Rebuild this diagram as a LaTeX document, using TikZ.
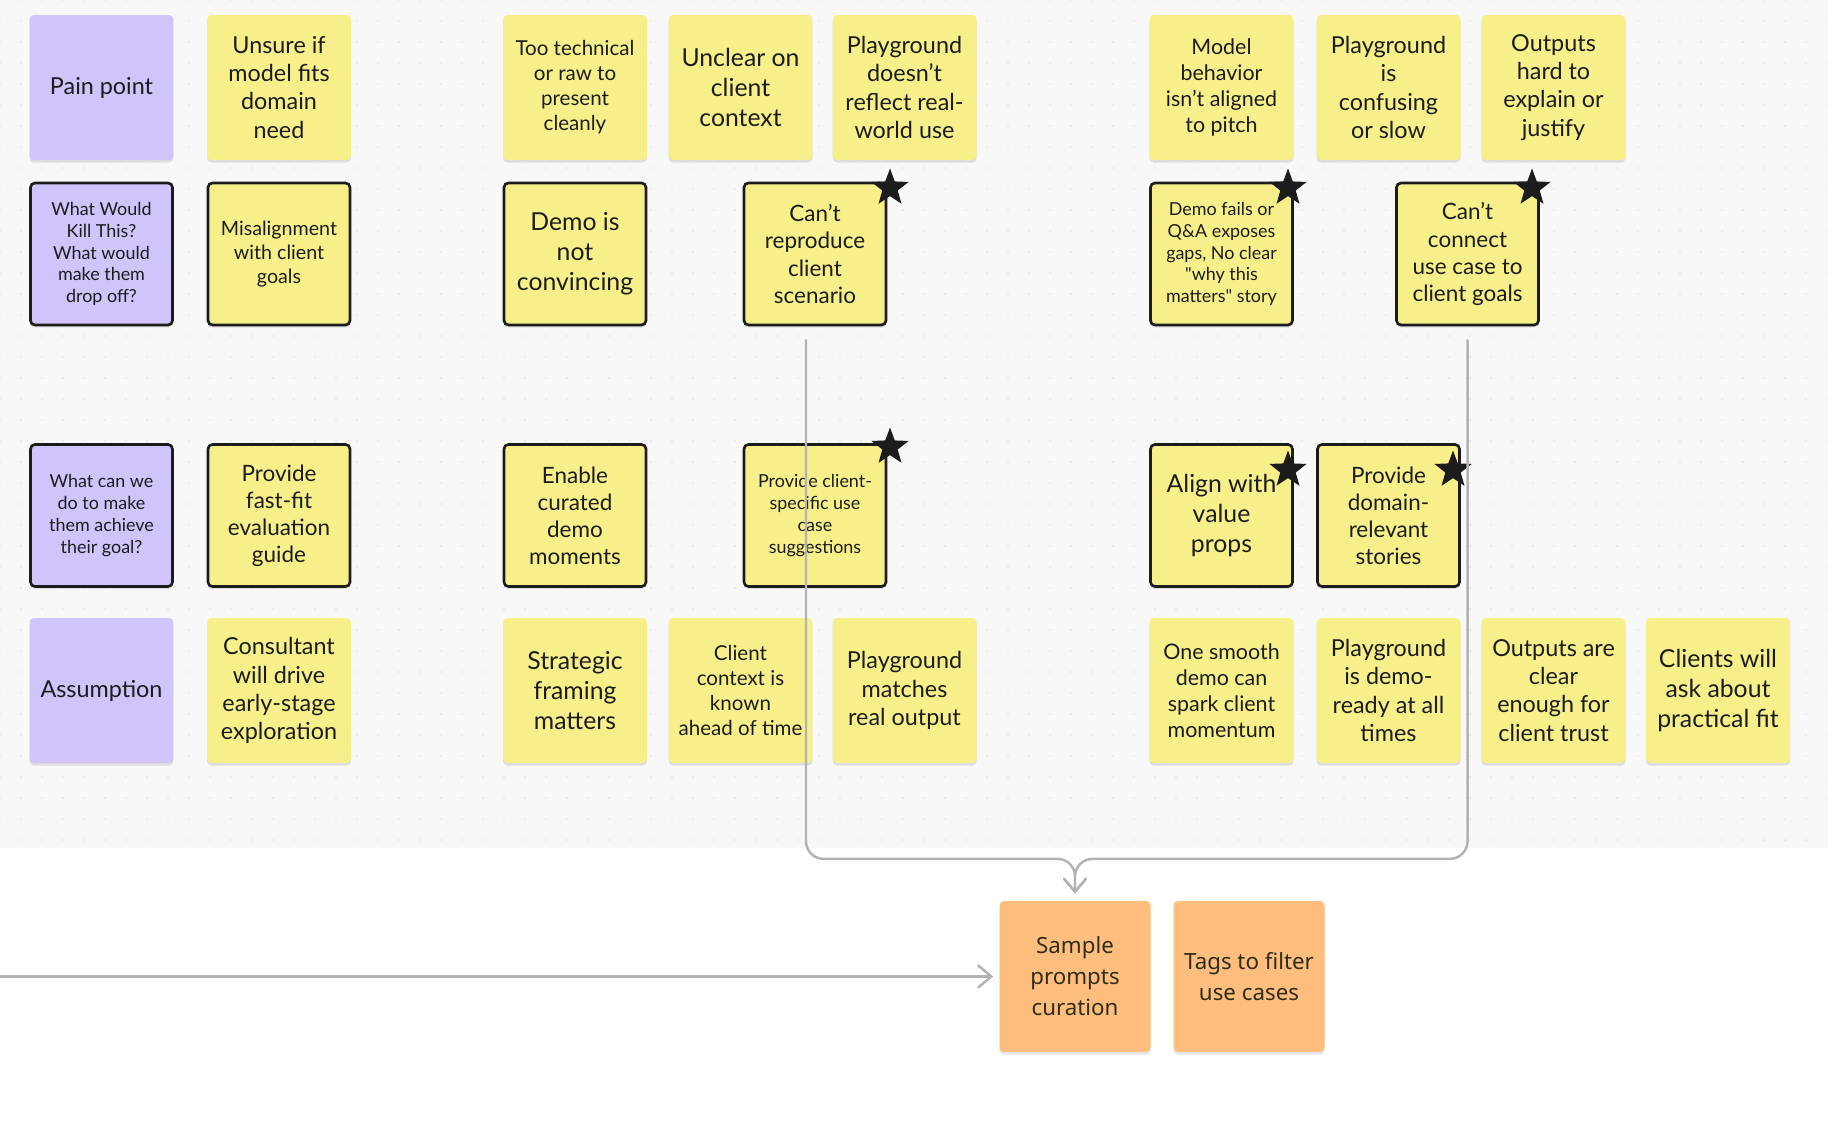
\documentclass[tikz,border=0pt]{standalone}
\usepackage{fontspec}
\setmainfont{Lato}[Ligatures=TeXOff]
\newfontfamily\orfont{Noto Sans}
\definecolor{yl}{HTML}{F7F08A}
\definecolor{pu}{HTML}{D0C4FA}
\definecolor{og}{HTML}{FFBE7E}
\definecolor{cv}{HTML}{F8F8F8}
\definecolor{dt}{HTML}{E2E2E2}
\definecolor{gr}{HTML}{B3B3B3}
\definecolor{ink}{HTML}{1C1C1C}
\definecolor{oink}{HTML}{2E2E18}
\usetikzlibrary{arrows.meta}
\usetikzlibrary{shapes.geometric}
\usetikzlibrary{shadows}

\begin{document}
\begin{tikzpicture}[
      x=0.02cm, y=-0.02cm,
      every node/.style={align=center, text=ink, inner sep=0pt},
      note/.style={fill=yl, rounded corners=2.5pt, minimum width=2.88cm, minimum height=2.9cm,
                   drop shadow={shadow xshift=0pt, shadow yshift=-1.5pt, opacity=.10, fill=black}},
      noteb/.style={note, draw=ink, line width=1.5pt, minimum width=2.84cm, minimum height=2.84cm},
      cat/.style={note, fill=pu},
      catb/.style={noteb, fill=pu},
      task/.style={note, fill=og, minimum width=3.02cm, minimum height=3.02cm, text=oink, font=\orfont\fontsize{12.7}{17.6}\selectfont},
      starmark/.style={star, star points=5, star point ratio=2.4, fill=ink, minimum size=0.78cm},
      fA/.style={font=\fontsize{10.2}{12.4}\selectfont},
      fM/.style={font=\fontsize{11.2}{13.6}\selectfont},
      fB/.style={font=\fontsize{11.7}{14.2}\selectfont},
      fC/.style={font=\fontsize{12.2}{14.7}\selectfont},
      fD/.style={font=\fontsize{12.8}{15.4}\selectfont},
      fE/.style={font=\fontsize{13.3}{16}\selectfont},
      fF/.style={font=\fontsize{14.1}{17}\selectfont},
      conn/.style={draw=gr, line width=1.4pt, line cap=round},
      tip/.style={-{Straight Barb[length=2.6mm, width=4.4mm, line cap=round]}}]

        \useasboundingbox (0,0) rectangle (1828,1138);
        \fill[cv] (0,0) rectangle (1828,848);
        \foreach \i in {0,21,...,1827}
          \foreach \j in {0,21,...,840}
            \fill[dt] (\i,\j) circle (0.55pt);

        % pain points
        \node[cat, fE]  (pain)     at (101.5,87.5) {Pain point};
        \node[note, fE] (unsure)   at (279,87.5)   {Unsure if\\model fits\\domain\\need};
        \node[note, fB] (tootech)  at (575,87.5)   {Too technical\\or raw to\\present\\cleanly};
        \node[note, fF] (unclear)  at (740.5,87.5) {Unclear on\\client\\context};
        \node[note, fE] (pgreal)   at (904.5,87.5) {Playground\\doesn’t\\reflect real-\\world use};
        \node[note, fC] (modelbeh) at (1221.5,87.5) {Model\\behavior\\isn’t aligned\\to pitch};
        \node[note, fE] (pgslow)   at (1388.5,87.5) {Playground\\is\\confusing\\or slow};
        \node[note, fE] (hardexp)  at (1553.5,87.5) {Outputs\\hard to\\explain or\\justify};

        % what would kill this
        \node[catb, fA]  (kill)     at (101.5,254) {What Would\\Kill This?\\What would\\make them\\drop off?};
        \node[noteb, fM] (misalign) at (279,254)   {Misalignment\\with client\\goals};
        \node[noteb, fF] (notconv)  at (575,254)   {Demo is\\not\\convincing};
        \node[noteb, fD] (cantrep)  at (815,254)   {Can’t\\reproduce\\client\\scenario};
        \node[noteb, fA] (demofail) at (1221.5,254) {Demo fails or\\Q\&A exposes\\gaps, No clear\\"why this\\matters" story};
        \node[noteb, fD] (cantconn) at (1467.5,254) {Can’t\\connect\\use case to\\client goals};

        % what can we do
        \node[catb, fA]  (achieve)   at (101.5,515.5) {What can we\\do to make\\them achieve\\their goal?};
        \node[noteb, fD] (fastfit)   at (279,515.5)   {Provide\\fast-fit\\evaluation\\guide};
        \node[noteb, fD] (curated)   at (575,515.5)   {Enable\\curated\\demo\\moments};
        \node[noteb, fA] (clientuse) at (815,515.5)   {Provide client-\\specific use\\case\\suggestions};
        \node[noteb, fF] (valprop)   at (1221.5,515.5) {Align with\\value\\props};
        \node[noteb, fD] (domstory)  at (1388.5,515.5) {Provide\\domain-\\relevant\\stories};

        % assumptions
        \node[cat, fE]  (assume)    at (101.5,690.5) {Assumption};
        \node[note, fE] (consult)   at (279,690.5)   {Consultant\\will drive\\early-stage\\exploration};
        \node[note, fF] (framing)   at (575,690.5)   {Strategic\\framing\\matters};
        \node[note, fB] (ctxknown)  at (740.5,690.5) {Client\\context is\\known\\ahead of time};
        \node[note, fE] (pgmatch)   at (904.5,690.5) {Playground\\matches\\real output};
        \node[note, fC] (smooth)    at (1221.5,690.5) {One smooth\\demo can\\spark client\\momentum};
        \node[note, fE] (demoready) at (1388.5,690.5) {Playground\\is demo-\\ready at all\\times};
        \node[note, fE] (clear)     at (1553.5,690.5) {Outputs are\\clear\\enough for\\client trust};
        \node[note, fF] (practical) at (1718,690.5)   {Clients will\\ask about\\practical fit};

        % stars
        \node[starmark] (s1) at (890,188)  {};
        \node[starmark] (s2) at (1288,188) {};
        \node[starmark] (s3) at (1532,188) {};
        \node[starmark] (s4) at (890,447)  {};
        \node[starmark] (s5) at (1288,470) {};
        \node[starmark] (s6) at (1453,470) {};

        % features
        \node[task] (sample) at (1075,976.5) {Sample\\prompts\\curation};
        \node[task] (tags)   at (1249,976.5) {Tags to filter\\use cases};

        \coordinate (lin) at (0,976.5);

        \draw[conn, tip, rounded corners=10pt, shorten >=4pt]
          ([shift={(-9,14)}]cantrep.south) |- ([yshift=23.8pt]sample.north) -- (sample.north);
        \draw[conn, tip, rounded corners=10pt, shorten >=4pt]
          ([shift={(0,14)}]cantconn.south) |- ([yshift=23.8pt]sample.north) -- (sample.north);
        \draw[conn, tip, shorten >=3.4pt] (lin) -- (sample.west);

      \end{tikzpicture}
\end{document}
